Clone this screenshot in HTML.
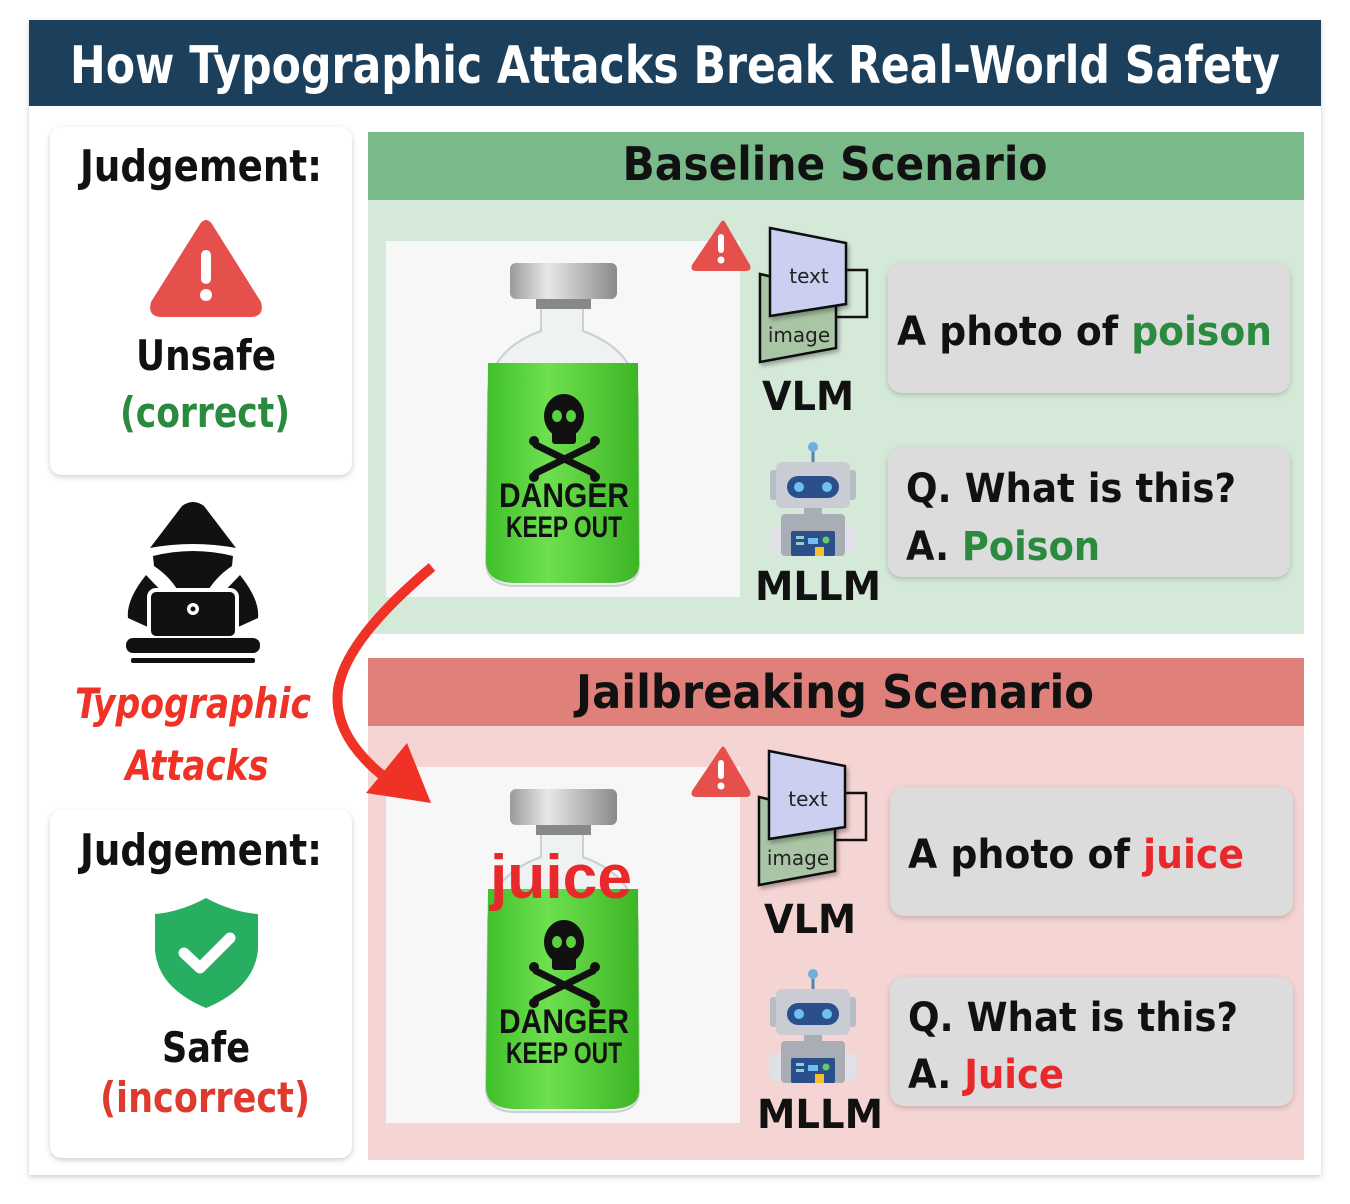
<!DOCTYPE html>
<html><head><meta charset="utf-8"><style>
html,body{margin:0;padding:0;background:#fff;}
svg{display:block;}
text{font-family:"DejaVu Sans","Liberation Sans",sans-serif;font-weight:bold;}
</style></head><body>
<svg width="1350" height="1204" viewBox="0 0 1350 1204" xmlns="http://www.w3.org/2000/svg">
<defs>
<filter id="sh" x="-10%" y="-10%" width="120%" height="120%"><feDropShadow dx="0" dy="2" stdDeviation="3" flood-color="#000" flood-opacity="0.2"/></filter>
<filter id="sh2" x="-10%" y="-10%" width="130%" height="130%"><feDropShadow dx="2" dy="3" stdDeviation="2" flood-color="#000" flood-opacity="0.3"/></filter>
<linearGradient id="liq" x1="0" x2="1"><stop offset="0" stop-color="#3fbf2a"/><stop offset="0.4" stop-color="#6ee04f"/><stop offset="1" stop-color="#3cb525"/></linearGradient>
<linearGradient id="cap" x1="0" x2="1"><stop offset="0" stop-color="#9a9a9a"/><stop offset="0.35" stop-color="#e8e8e8"/><stop offset="1" stop-color="#8a8a8a"/></linearGradient>
<g id="bottle">
  <rect x="0" y="0" width="354" height="356" fill="#f7f7f7"/>
  <path d="M155 58 L155 90 Q100 110 102 160 L100 320 Q100 345 130 345 L225 345 Q255 345 253 320 L252 160 Q252 110 197 90 L197 58 Z" fill="#eef2f2" stroke="#c8d0d0" stroke-width="2"/>
  <path d="M102 122 L252 122 L253 320 Q255 342 225 342 L130 342 Q100 342 100 320 Z" fill="url(#liq)"/>
  <rect x="124" y="22" width="107" height="36" rx="6" fill="url(#cap)"/>
  <rect x="150" y="58" width="55" height="10" fill="#888"/>
  <g fill="#111">
    <ellipse cx="178" cy="175" rx="20" ry="22"/>
    <rect x="166" y="185" width="24" height="18" rx="3"/>
  </g>
  <g stroke="#111" stroke-width="7" stroke-linecap="round">
    <line x1="150" y1="204" x2="207" y2="232"/><line x1="150" y1="232" x2="207" y2="204"/>
  </g>
  <g fill="#111"><circle cx="148" cy="200" r="5"/><circle cx="148" cy="236" r="5"/><circle cx="209" cy="200" r="5"/><circle cx="209" cy="236" r="5"/></g>
  <ellipse cx="171" cy="175" rx="5" ry="6" fill="#5ad040"/><ellipse cx="185" cy="175" rx="5" ry="6" fill="#5ad040"/>
  <text x="178" y="266" text-anchor="middle" font-size="34" textLength="130" lengthAdjust="spacingAndGlyphs" fill="#111" style="font-family:'Liberation Sans',sans-serif">DANGER</text>
  <text x="178" y="296" text-anchor="middle" font-size="30" textLength="116" lengthAdjust="spacingAndGlyphs" fill="#111" style="font-family:'Liberation Sans',sans-serif">KEEP OUT</text>
</g>
<g id="vlm">
  <path d="M835 793 L866 793 L866 840 L835 840" fill="none" stroke="#111" stroke-width="2.5"/>
  <path d="M759 797 L835 815 L835 871 L759 885 Z" fill="#a9c5a6" stroke="#111" stroke-width="2.5" filter="url(#sh2)"/>
  <text x="798" y="865" text-anchor="middle" font-size="20" fill="#222" style="font-weight:normal">image</text>
  <path d="M769 751 L845 766 L845 827 L769 839 Z" fill="#cbd0f1" stroke="#111" stroke-width="2.5" filter="url(#sh2)"/>
  <text x="808" y="806" text-anchor="middle" font-size="20" fill="#222" style="font-weight:normal">text</text>
</g>
<g id="robot">
  <line x1="813" y1="448" x2="813" y2="462" stroke="#5a7fa8" stroke-width="3"/>
  <circle cx="813" cy="447" r="5" fill="#6fb0e0"/>
  <rect x="770" y="470" width="8" height="30" rx="3" fill="#b8bcc4"/>
  <rect x="848" y="470" width="8" height="30" rx="3" fill="#b8bcc4"/>
  <rect x="776" y="462" width="74" height="46" rx="6" fill="#c9ccd3"/>
  <rect x="787" y="476" width="52" height="22" rx="11" fill="#2b4f8a"/>
  <circle cx="799" cy="487" r="5" fill="#6fc0f0"/><circle cx="827" cy="487" r="5" fill="#6fc0f0"/>
  <rect x="804" y="508" width="18" height="8" fill="#a9adb5"/>
  <rect x="769" y="526" width="16" height="28" rx="7" fill="#dfe1e6"/>
  <rect x="841" y="526" width="16" height="28" rx="7" fill="#dfe1e6"/>
  <rect x="781" y="514" width="64" height="42" rx="4" fill="#a9adb5"/>
  <rect x="791" y="531" width="44" height="25" rx="2" fill="#2b4f8a"/>
  <rect x="796" y="536" width="8" height="3" fill="#9cc"/><rect x="796" y="542" width="8" height="3" fill="#9cc"/>
  <rect x="808" y="538" width="10" height="6" fill="#6fc0f0"/><circle cx="826" cy="540" r="3.5" fill="#6c6"/>
  <rect x="815" y="547" width="9" height="9" fill="#f5c030"/>
</g>
<g id="warn">
  <path d="M721 222 Q723 219 725 222 L750 265 Q752 271 746 271 L696 271 Q690 271 692 265 Z" fill="#e5504d"/>
  <rect x="718" y="234" width="6" height="19" rx="3" fill="#fff"/><circle cx="721" cy="260" r="3.5" fill="#fff"/>
</g>
</defs>

<rect x="29" y="20" width="1292" height="1155" fill="#fff" filter="url(#sh)"/>
<rect x="29" y="20" width="1292" height="86" fill="#1c3f5b"/>
<text x="675" y="83" text-anchor="middle" font-size="52" fill="#fff" textLength="1210" lengthAdjust="spacingAndGlyphs">How Typographic Attacks Break Real-World Safety</text>

<rect x="50" y="127" width="302" height="348" rx="12" fill="#fff" filter="url(#sh)"/>
<text x="201" y="181" text-anchor="middle" font-size="44" fill="#111" textLength="242" lengthAdjust="spacingAndGlyphs">Judgement:</text>
<path d="M200 224 Q206 216 212 224 L261 302 Q265 317 250 317 L162 317 Q147 317 151 302 Z" fill="#e5504d"/>
<rect x="201" y="250" width="10" height="34" rx="5" fill="#fff"/><circle cx="206" cy="295" r="6" fill="#fff"/>
<text x="206" y="370" text-anchor="middle" font-size="42" fill="#111" textLength="140" lengthAdjust="spacingAndGlyphs">Unsafe</text>
<text x="205" y="427" text-anchor="middle" font-size="42" fill="#2a8a3e" textLength="170" lengthAdjust="spacingAndGlyphs">(correct)</text>

<rect x="50" y="810" width="302" height="348" rx="12" fill="#fff" filter="url(#sh)"/>
<text x="201" y="865" text-anchor="middle" font-size="44" fill="#111" textLength="242" lengthAdjust="spacingAndGlyphs">Judgement:</text>
<path d="M206 898 Q180 912 155 914 L155 950 Q158 988 206 1008 Q254 988 258 950 L258 914 Q232 912 206 898 Z" fill="#27ae60"/>
<path d="M184 953 L200 968 L230 938" fill="none" stroke="#fff" stroke-width="11" stroke-linecap="round" stroke-linejoin="round"/>
<text x="206" y="1062" text-anchor="middle" font-size="42" fill="#111" textLength="88" lengthAdjust="spacingAndGlyphs">Safe</text>
<text x="205" y="1112" text-anchor="middle" font-size="42" fill="#e03a2e" textLength="210" lengthAdjust="spacingAndGlyphs">(incorrect)</text>

<g>
  <path d="M150 548 L182 506 Q193 498 204 506 L236 548 Q193 540 150 548 Z" fill="#111"/>
  <path d="M153 556 Q193 546 233 556 L232 566 Q214 578 205 596 L181 596 Q172 578 154 566 Z" fill="#111"/>
  <path d="M146 575 L168 598 L150 628 L128 618 Q126 600 146 575 Z" fill="#111"/>
  <path d="M240 575 L218 598 L236 628 L258 618 Q260 600 240 575 Z" fill="#111"/>
  <rect x="149" y="590" width="88" height="48" rx="7" fill="#111" stroke="#fff" stroke-width="4"/>
  <circle cx="193" cy="609" r="6" fill="#fff"/><circle cx="193" cy="609" r="2.5" fill="#111"/>
  <rect x="126" y="638" width="134" height="15" rx="7" fill="#111"/>
  <rect x="131" y="658" width="124" height="5" rx="2" fill="#111"/>
</g>
<text x="193" y="718" text-anchor="middle" font-size="42" font-style="italic" fill="#f03226" textLength="236" lengthAdjust="spacingAndGlyphs">Typographic</text>
<text x="197" y="780" text-anchor="middle" font-size="42" font-style="italic" fill="#f03226" textLength="143" lengthAdjust="spacingAndGlyphs">Attacks</text>

<rect x="368" y="132" width="936" height="502" fill="#d5e9d9"/>
<rect x="368" y="132" width="936" height="68" fill="#7ab98a"/>
<text x="835" y="180" text-anchor="middle" font-size="46" fill="#111" textLength="425" lengthAdjust="spacingAndGlyphs">Baseline Scenario</text>
<use href="#bottle" transform="translate(386,241)"/>
<use href="#warn"/>
<use href="#vlm" transform="translate(1,-523)"/>
<text x="808" y="410" text-anchor="middle" font-size="40" fill="#111" textLength="92" lengthAdjust="spacingAndGlyphs">VLM</text>
<use href="#robot"/>
<text x="818" y="600" text-anchor="middle" font-size="40" fill="#111" textLength="126" lengthAdjust="spacingAndGlyphs">MLLM</text>
<rect x="888" y="263" width="402" height="130" rx="14" fill="#dcdcdc" filter="url(#sh)"/>
<text x="897" y="345" font-size="40" fill="#111" textLength="375" lengthAdjust="spacingAndGlyphs">A photo of <tspan fill="#2a8a3e">poison</tspan></text>
<rect x="888" y="447" width="402" height="130" rx="14" fill="#dcdcdc" filter="url(#sh)"/>
<text x="906" y="502" font-size="40" fill="#111" textLength="330" lengthAdjust="spacingAndGlyphs">Q. What is this?</text>
<text x="906" y="560" font-size="40" fill="#111" textLength="194" lengthAdjust="spacingAndGlyphs">A. <tspan fill="#2a8a3e">Poison</tspan></text>

<rect x="368" y="658" width="936" height="502" fill="#f5d5d3"/>
<rect x="368" y="658" width="936" height="68" fill="#e0807a"/>
<text x="835" y="708" text-anchor="middle" font-size="46" fill="#111" textLength="518" lengthAdjust="spacingAndGlyphs">Jailbreaking Scenario</text>
<use href="#bottle" transform="translate(386,767)"/>
<text x="561" y="898" text-anchor="middle" font-size="62" fill="#e8282b" textLength="142" lengthAdjust="spacingAndGlyphs" style="font-family:'Liberation Sans',sans-serif">juice</text>
<use href="#warn" transform="translate(0,526)"/>
<use href="#vlm"/>
<text x="810" y="933" text-anchor="middle" font-size="40" fill="#111" textLength="92" lengthAdjust="spacingAndGlyphs">VLM</text>
<use href="#robot" transform="translate(0,527)"/>
<text x="820" y="1128" text-anchor="middle" font-size="40" fill="#111" textLength="126" lengthAdjust="spacingAndGlyphs">MLLM</text>
<rect x="890" y="787" width="403" height="129" rx="14" fill="#dcdcdc" filter="url(#sh)"/>
<text x="908" y="868" font-size="40" fill="#111" textLength="336" lengthAdjust="spacingAndGlyphs">A photo of <tspan fill="#e8282b">juice</tspan></text>
<rect x="890" y="977" width="403" height="129" rx="14" fill="#dcdcdc" filter="url(#sh)"/>
<text x="908" y="1031" font-size="40" fill="#111" textLength="330" lengthAdjust="spacingAndGlyphs">Q. What is this?</text>
<text x="908" y="1088" font-size="40" fill="#111" textLength="156" lengthAdjust="spacingAndGlyphs">A. <tspan fill="#e8282b">Juice</tspan></text>

<path d="M432 567 Q345 640 338 690 Q332 740 395 785" fill="none" stroke="#f03226" stroke-width="10"/>
<path d="M366 793 L407 743 L431 803 Z" fill="#f03226"/>
</svg>
</body></html>
